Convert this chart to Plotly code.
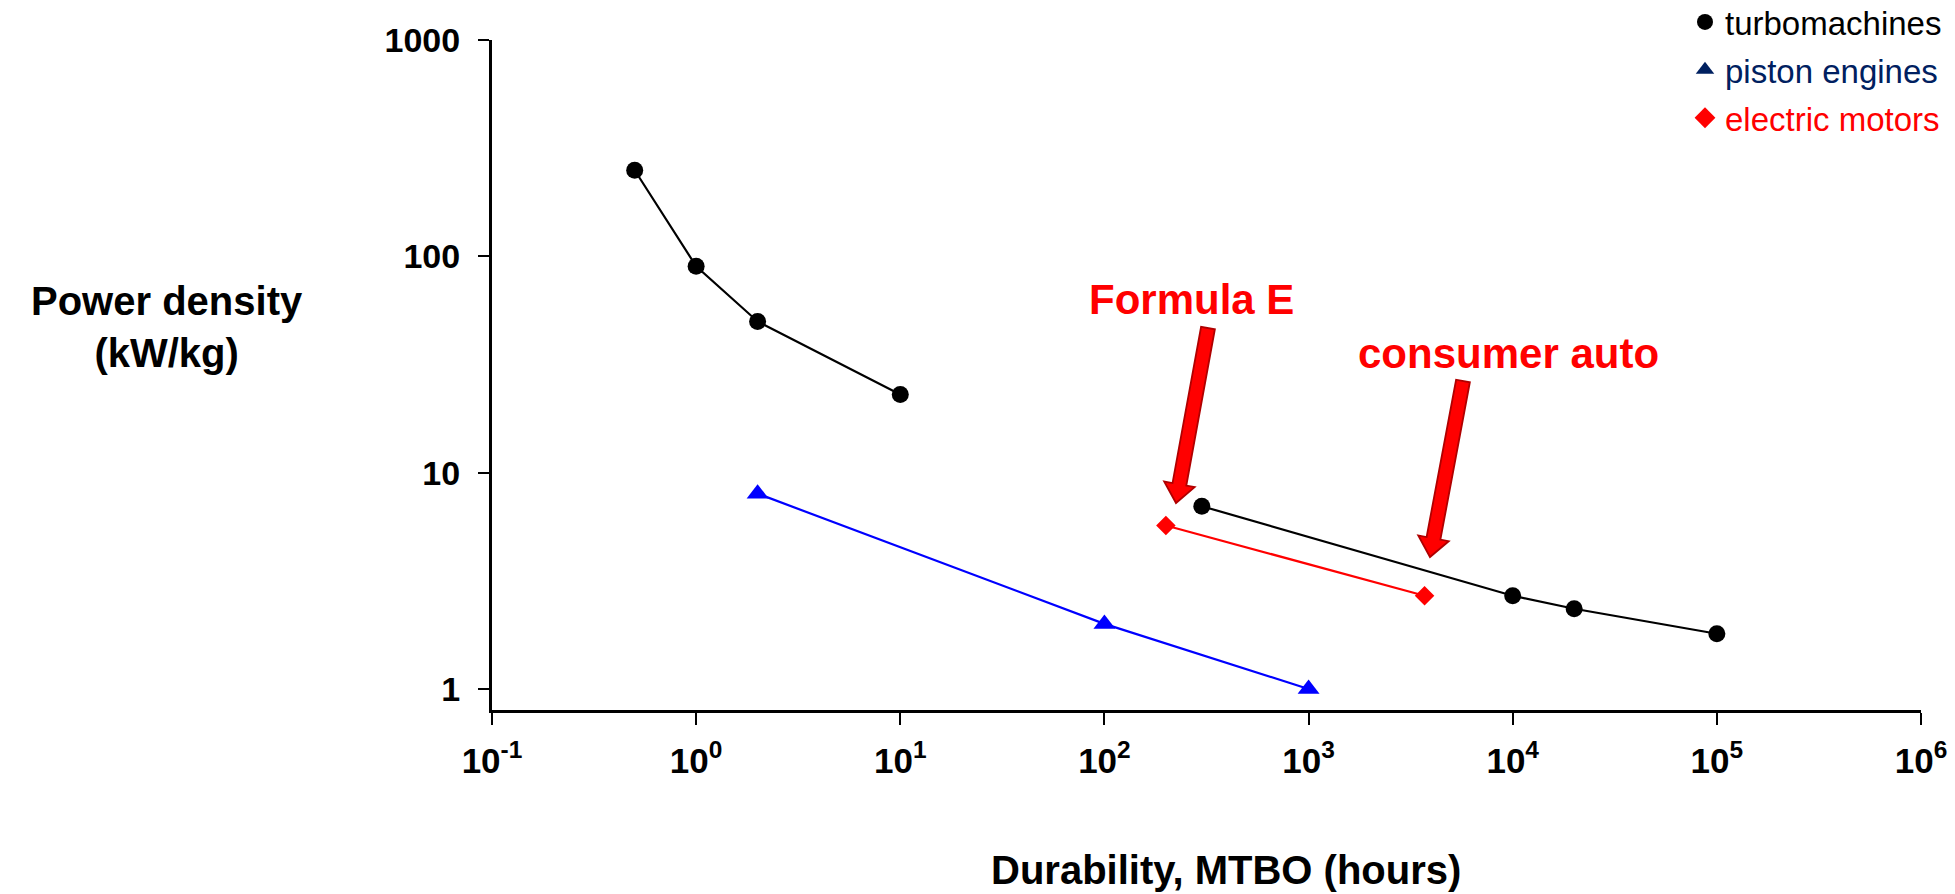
import math
import plotly.graph_objects as go

# ---------------- data ----------------
turbo_group1_x = [0.5, 1, 2, 10]
turbo_group1_y = [250, 90, 50, 23]
turbo_group2_x = [300, 1e4, 2e4, 1e5]
turbo_group2_y = [7, 2.7, 2.35, 1.8]
piston_x = [2, 100, 1000]
piston_y = [8, 2, 1]
electric_x = [200, 3700]
electric_y = [5.7, 2.7]

x_tickvals = [0.1, 1, 10, 100, 1e3, 1e4, 1e5, 1e6]
x_ticktext = ["10<sup>-1</sup>", "10<sup>0</sup>", "10<sup>1</sup>", "10<sup>2</sup>",
              "10<sup>3</sup>", "10<sup>4</sup>", "10<sup>5</sup>", "10<sup>6</sup>"]
y_tickvals = [1, 10, 100, 1000]
y_ticktext = ["1", "10", "100", "1000"]

legend_names = ["turbomachines", "piston engines", "electric motors"]

# ---------------- layout geometry ----------------
W, H = 1955, 894
L, R, T, B = 492, 34, 40, 184
PW, PH = W - L - R, H - T - B


def px2paper(px, py):
    return (px - L) / PW, (H - B - py) / PH


FONT = "Arial, Liberation Sans, sans-serif"

fig = go.Figure()

turbo_x = turbo_group1_x + [None] + turbo_group2_x
turbo_y = turbo_group1_y + [None] + turbo_group2_y

fig.add_trace(go.Scatter(x=turbo_x, y=turbo_y, mode="lines+markers", connectgaps=False,
                         line=dict(color="black", width=2.2),
                         marker=dict(symbol="circle", size=17, color="black"),
                         showlegend=False))
fig.add_trace(go.Scatter(x=piston_x, y=piston_y, mode="lines+markers",
                         line=dict(color="#0000FF", width=2.2),
                         marker=dict(symbol="triangle-up", size=19, color="#0000FF"),
                         showlegend=False))
fig.add_trace(go.Scatter(x=electric_x, y=electric_y, mode="lines+markers",
                         line=dict(color="#FF0000", width=2.2),
                         marker=dict(symbol="diamond", size=15, color="#FF0000"),
                         showlegend=False))

# legend-only entries (markers only, as in the reference)
legend_styles = [("circle", "black", "black"),
                 ("triangle-up", "#002060", "#002060"),
                 ("diamond", "#FF0000", "#FF0000")]
for i, (name, (sym, mcol, tcol)) in enumerate(zip(legend_names, legend_styles)):
    fig.add_trace(go.Scatter(x=[None], y=[None], mode="markers",
                             name=f'<span style="color:{tcol}">{name}</span>',
                             legendgroup=f"g{i}",
                             marker=dict(symbol=sym, size=16, color=mcol)))

# ---------------- arrows (block arrows as shapes) ----------------
def block_arrow(tail, tip, shaft=7, head=15.5, head_len=19):
    tx, ty = tail
    hx, hy = tip
    dx, dy = hx - tx, hy - ty
    ln = math.hypot(dx, dy)
    ux, uy = dx / ln, dy / ln
    nx, ny = -uy, ux
    bx, by = hx - ux * head_len, hy - uy * head_len
    pts = [(tx + nx * shaft, ty + ny * shaft), (bx + nx * shaft, by + ny * shaft),
           (bx + nx * head, by + ny * head), (hx, hy),
           (bx - nx * head, by - ny * head), (bx - nx * shaft, by - ny * shaft),
           (tx - nx * shaft, ty - ny * shaft)]
    pp = [px2paper(x, y) for x, y in pts]
    path = "M " + " L ".join(f"{x:.5f},{y:.5f}" for x, y in pp) + " Z"
    return dict(type="path", xref="paper", yref="paper", path=path,
                fillcolor="#FF0000", line=dict(color="#B00000", width=1.8), layer="above")


arrows = [((1208, 328), (1176, 503)), ((1463, 381), (1430, 557))]
fig.update_layout(shapes=[block_arrow(a, b) for a, b in arrows])

# ---------------- annotations ----------------
def text_at(px, py, text, size, color="black"):
    x, y = px2paper(px, py)
    return dict(x=x, y=y, xref="paper", yref="paper", showarrow=False,
                xanchor="center", yanchor="middle", text=text, align="center",
                font=dict(family=FONT, size=size, color=color))


annos = [
    text_at(167, 327, "<b>Power density</b><br><b>(kW/kg)</b>", 40),
    text_at(1226, 870, "<b>Durability, MTBO (hours)</b>", 40),
    text_at(1191, 299, "<b>Formula E</b>", 42, "#FF0000"),
    text_at(1508, 353, "<b>consumer auto</b>", 42, "#FF0000"),
]

lx, ly = px2paper(1685, -6)
fig.update_layout(
    width=W, height=H,
    margin=dict(l=L, r=R, t=T, b=B, autoexpand=False),
    paper_bgcolor="white", plot_bgcolor="white",
    font=dict(family=FONT, color="black"),
    annotations=annos,
    legend=dict(x=lx, y=ly, xanchor="left", yanchor="top",
                font=dict(family=FONT, size=33), tracegroupgap=2,
                bgcolor="rgba(0,0,0,0)", itemsizing="trace"),
    xaxis=dict(type="log", range=[-1, 6], showline=True, linecolor="black", linewidth=3,
               ticks="outside", ticklen=12, tickwidth=2, tickcolor="black",
               showgrid=False, zeroline=False, tickvals=x_tickvals, ticktext=x_ticktext,
               tickfont=dict(family=FONT, size=35, color="black", weight="bold"),
               ticklabelstandoff=6, automargin=False),
    yaxis=dict(type="log", range=[-0.097, 3], showline=True, linecolor="black", linewidth=3,
               ticks="outside", ticklen=11, tickwidth=2, tickcolor="black",
               showgrid=False, zeroline=False, tickvals=y_tickvals, ticktext=y_ticktext,
               tickfont=dict(family=FONT, size=34, color="black", weight="bold"),
               ticklabelstandoff=11, automargin=False),
)

fig.write_html("out.html")
